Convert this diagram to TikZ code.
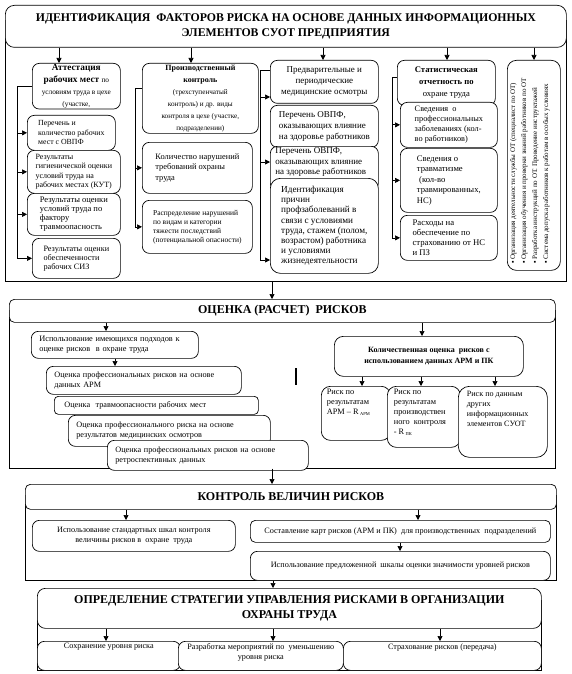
\documentclass[tikz,border=0pt]{standalone}
\usepackage{fontspec}
\setmainfont{Liberation Serif}
\usetikzlibrary{arrows.meta}
\newcommand\fz[2]{\fontsize{#1}{#2}\selectfont}
\newcommand\tbx[3]{\parbox[c][#1][t]{#2}{\raggedright #3}}
\tikzset{
  ln/.style={line width=0.7pt},
  rb/.style={draw, ln, rounded corners=7pt, fill=white, anchor=north west, inner sep=2pt},
  frame/.style={draw, ln, anchor=north west, inner sep=0pt},
  arr/.style={ln, -{Triangle[length=5pt,width=5pt]}},
}
\begin{document}
\begin{tikzpicture}[x=1pt,y=-1pt]
\useasboundingbox[fill=white] (0,0) rectangle (572,674);
% ================= SECTION 1
\node[frame, minimum width=561pt, minimum height=261pt] (s1) at (5,20) {};
\node[rb, rounded corners=9pt, minimum width=561pt, minimum height=42pt, align=center, font=\fz{11.8}{15}\bfseries] (t1) at (5,5)
  {ИДЕНТИФИКАЦИЯ\ \ ФАКТОРОВ РИСКА НА ОСНОВЕ ДАННЫХ ИНФОРМАЦИОННЫХ\\ЭЛЕМЕНТОВ СУОТ ПРЕДПРИЯТИЯ};
% column 1
\node[rb, minimum width=88pt, minimum height=45pt, align=center, inner sep=1pt] (h1) at (32,63)
  {\fz{9.3}{10}\bfseries Аттестация\\
   \fz{9.3}{9.5}\bfseries рабочих мест \fz{7.3}{9}\mdseries по\\
   \fz{7.3}{8.5}условиям труда в цехе\\
   \fz{7.3}{8.5}(участке,};
\node[rb, minimum width=88pt, minimum height=35pt, align=left, font=\fz{7.8}{9.5}] (a1) at (27,115)
  {Перечень и\\ количество рабочих\\ мест с ОВПФ};
\node[rb, minimum width=93pt, minimum height=43pt, align=left, font=\fz{8}{9.3}] (a2) at (27,150)
  {Результаты\\ гигиенической оценки\\ условий труда на\\ рабочих местах (КУТ)};
\node[rb, minimum width=93pt, minimum height=42pt, align=left, font=\fz{8.5}{9}] (a3) at (27,193)
  {Результаты оценки\\ условий труда по\\ фактору\\ травмоопасность};
\node[rb, minimum width=88pt, minimum height=40pt, align=left, font=\fz{8.2}{9}] (a4) at (32,238)
  {Результаты оценки\\ обеспеченности\\ рабочих СИЗ};
% column 2
\node[rb, minimum width=116pt, minimum height=70pt, align=center, inner sep=1pt] (h2) at (142,63)
  {\fz{8}{10}\bfseries Производственный\\
   \fz{8}{10}\bfseries контроль\\
   \fz{7.2}{8.5}(трехступенчатый\\
   \fz{7.2}{8.5}контроль) и др. виды\\
   \fz{7.2}{8.5}контроля в цехе (участке,\\
   \fz{7.2}{8.5}подразделении)};
\node[rb, minimum width=110pt, minimum height=51pt, align=left, font=\fz{8.4}{10.5}] (b1) at (142,142)
  {Количество нарушений\\ требований охраны\\ труда};
\node[rb, minimum width=110pt, minimum height=53pt, align=left, font=\fz{7.5}{9}] (b2) at (142,200)
  {Распределение нарушений\\ по видам и категории\\ тяжести последствий\\ (потенциальной опасности)};
% column 3
\node[rb, minimum width=108pt, minimum height=43pt, align=center, font=\fz{9}{11}] (h3) at (270,60)
  {Предварительные и\\ периодические\\ медицинские осмотры};
\node[rb, minimum width=108pt, minimum height=42pt, align=left, font=\fz{9}{10.8}] (c1) at (270,105)
  {Перечень ОВПФ,\\ оказывающих влияние\\ на здоровье работников};
\node[rb, minimum width=108pt, minimum height=44pt, inner sep=0pt, font=\fz{9}{10.5}] (c2) at (270,146)
  {\tbx{41pt}{98pt}{Перечень ОВПФ,\\ оказывающих влияние\\ на здоровье работников}};
\node[rb, rounded corners=10pt, minimum width=108pt, minimum height=95pt, align=left, font=\fz{9.2}{10.2}] (c3) at (270,178)
  {Идентификация\\ причин\\ профзаболеваний в\\ связи с условиями\\ труда, стажем (полом,\\ возрастом) работника\\ и условиями\\ жизнедеятельности};
% column 4
\node[rb, minimum width=98pt, minimum height=45pt, align=center, inner sep=1pt] (h4) at (397,60)
  {\fz{8.6}{11}\bfseries Статистическая\\
   \fz{8.6}{11}\bfseries отчетность по\\
   \fz{8.6}{11}охране труда};
\node[rb, minimum width=97pt, minimum height=45pt, align=left, font=\fz{8.3}{10}] (d1) at (400,102)
  {Сведения\ \ о\\ профессиональных\\ заболеваниях (кол-\\ во работников)};
\node[rb, minimum width=97pt, minimum height=64pt, align=left, font=\fz{8.6}{10.5}] (d2) at (400,148)
  {Сведения о\\ травматизме\\ \ (кол-во\\ травмированных,\\ НС)};
\node[rb, minimum width=97pt, minimum height=45pt, align=left, font=\fz{8.7}{10}] (d3) at (400,215)
  {Расходы на\\ обеспечение по\\ страхованию от НС\\ и ПЗ};
% column 5
\node[rb, rounded corners=9pt, minimum width=53pt, minimum height=210pt] (e) at (507,60) {};
\node[rotate=90, anchor=north west, align=left, inner sep=0pt, font=\fz{7}{11}] (etext) at (510,264)
  {▪ Организация деятельности службы ОТ (специалист по ОТ)\\
   ▪ Организация обучения и проверки знаний работников по ОТ\\
   ▪ Разработка инструкций по ОТ. Проведение инструктажей\\
   ▪ Система допуска работников к работам в особых условиях};
% arrows from title
\draw[arr] (t1.south -| 59,0) -- (h1.north -| 59,0);
\draw[arr] (t1.south -| 191,0) -- (h2.north -| 191,0);
\draw[arr] (t1.south -| 323,0) -- (h3.north -| 323,0);
\draw[arr] (t1.south -| 447,0) -- (h4.north -| 447,0);
\draw[arr] (t1.south -| 534,0) -- (e.north -| 534,0);
% brackets
\coordinate (k1) at (17,0);
\draw[ln] (h1.west) -| (k1 |- a4.west);
\foreach \n in {a1,a2,a3,a4} \draw[arr] (k1 |- \n.west) -- (\n.west);
\coordinate (k2) at (135,0);
\draw[ln] ([yshift=10pt]h2.west) -| (k2 |- b2.west);
\foreach \n in {b1,b2} \draw[arr] (k2 |- \n.west) -- (\n.west);
\coordinate (k3) at (260,0);
\draw[ln] ([yshift=11pt]h3.west) -| (k3 |- 0,260);
\draw[arr] (k3 |- 0,97) -- (h3.west |- 0,97);
\draw[arr] (k3 |- 0,162) -- (c2.west |- 0,162);
\draw[arr] (k3 |- 0,260) -- (c3.west |- 0,260);
\coordinate (k4) at (392,0);
\draw[ln] ([yshift=5pt]h4.west) -| (k4 |- d3.west);
\foreach \n in {d1,d2,d3} \draw[arr] (k4 |- \n.west) -- (\n.west);
% ================= SECTION 2
\node[frame, minimum width=546pt, minimum height=158pt] (s2) at (9,310) {};
\node[rb, rounded corners=5pt, minimum width=546pt, minimum height=23pt, font=\fz{12}{14}\bfseries] (t2) at (9,299) {ОЦЕНКА (РАСЧЕТ)\ \ РИСКОВ};
\node[rb, minimum width=167pt, minimum height=27pt, text width=151pt, inner xsep=8pt, align=left, font=\fz{8.3}{10}] (f1) at (31,331)
  {Использование имеющихся подходов к\\ оценке рисков\ \ в охране труда};
\node[rb, minimum width=195pt, minimum height=28pt, text width=179pt, inner xsep=8pt, align=left, font=\fz{8.2}{10}] (f2) at (46,366)
  {Оценка профессиональных рисков на основе\\ данных АРМ};
\node[rb, rounded corners=4pt, minimum width=204pt, minimum height=18pt, text width=184pt, inner xsep=10pt, align=left, font=\fz{8.2}{10}] (f3) at (54,396)
  {Оценка\ \ травмоопасности рабочих мест};
\node[rb, minimum width=202pt, minimum height=31pt, text width=186pt, inner xsep=8pt, align=left, font=\fz{8.2}{10}] (f4) at (68,415)
  {Оценка профессионального риска на основе\\ результатов медицинских осмотров};
\node[rb, minimum width=201pt, minimum height=30pt, text width=185pt, inner xsep=8pt, align=left, font=\fz{8.2}{10}] (f5) at (107,440)
  {Оценка профессиональных рисков на основе\\ ретроспективных данных};
\draw[line width=1.5pt] (296,368) coordinate (bar1) -- (296,385) coordinate (bar2);
\node[rb, rounded corners=9pt, minimum width=189pt, minimum height=40pt, align=center, font=\fz{8}{11}\bfseries] (g) at (334,336)
  {Количественная оценка\ \ рисков\ с\\ использованием данных АРМ и ПК};
\node[rb, rounded corners=9pt, minimum width=69pt, minimum height=54pt, inner sep=0pt, font=\fz{8.3}{10}] (r1) at (321,386)
  {\tbx{48pt}{58pt}{Риск по\\ результатам\\ АРМ – R\,\textsubscript{\fz{4.5}{5}АРМ}}};
\node[rb, rounded corners=9pt, minimum width=73pt, minimum height=61pt, inner sep=0pt, font=\fz{8.3}{10}] (r2) at (387,386)
  {\tbx{55pt}{60pt}{Риск по\\ результатам\\ производствен\\ ного\ \ контроля\\ - R\,\textsubscript{\fz{4.5}{5}ПК}}};
\node[rb, rounded corners=11pt, minimum width=89pt, minimum height=71pt, inner sep=0pt, font=\fz{8.1}{10}] (r3) at (458,386)
  {\tbx{62pt}{72pt}{Риск по данным\\ других\\ информационных\\ элементов СУОТ}};
\draw[arr] (s1.south -| 272,0) -- (t2.north -| 272,0);
\draw[arr] (t2.south -| 106,0) -- (f1.north -| 106,0);
\draw[arr] (f1.south -| 115,0) -- (f2.north -| 115,0);
\draw[arr] (t2.south -| 422,0) -- (g.north -| 422,0);
\draw[arr] (g.south -| 362,0) -- (r1.north -| 362,0);
\draw[arr] (g.south -| 421,0) -- (r2.north -| 421,0);
\draw[arr] (g.south -| 495,0) -- (r3.north -| 495,0);
% ================= SECTION 3
\node[frame, minimum width=531pt, minimum height=85pt] (s3) at (25,495) {};
\node[rb, rounded corners=5pt, minimum width=531pt, minimum height=25pt, font=\fz{12}{14}\bfseries] (t3) at (25,484) {КОНТРОЛЬ ВЕЛИЧИН РИСКОВ};
\node[rb, minimum width=203pt, minimum height=31pt, align=center, font=\fz{8.2}{10}] (m1) at (32,520)
  {Использование стандартных шкал контроля\\ величины рисков в\ \ охране\ \ труда};
\node[rb, rounded corners=5pt, minimum width=300pt, minimum height=22pt, align=center, font=\fz{8.2}{10}] (m2) at (250,520)
  {Составление карт рисков (АРМ и ПК)\ \ для производственных\ \ подразделений};
\node[rb, minimum width=300pt, minimum height=29pt, align=center, font=\fz{8.2}{10}] (m3) at (250,551)
  {Использование предложенной\ \ шкалы оценки значимости уровней рисков};
\draw[arr] (s2.south -| 272,0) -- (t3.north -| 272,0);
\draw[arr] (t3.south -| 126,0) -- (m1.north -| 126,0);
\draw[arr] (t3.south -| 418,0) -- (m2.north -| 418,0);
\draw[arr] (m2.south -| 400,0) -- (m3.north -| 400,0);
% ================= SECTION 4
\node[frame, minimum width=504pt, minimum height=70pt] (s4) at (37,600) {};
\node[rb, rounded corners=8pt, minimum width=504pt, minimum height=40pt, align=center, font=\fz{12}{15}\bfseries] (t4) at (37,588)
  {ОПРЕДЕЛЕНИЕ СТРАТЕГИИ УПРАВЛЕНИЯ РИСКАМИ В ОРГАНИЗАЦИИ\\ ОХРАНЫ ТРУДА};
\node[rb, minimum width=143pt, minimum height=29pt, inner sep=0pt, font=\fz{8.2}{10}] (n1) at (37,641)
  {\parbox[c][25pt][t]{130pt}{\centering Сохранение уровня риска}};
\node[rb, minimum width=165pt, minimum height=29pt, inner sep=0pt, font=\fz{8.2}{10}] (n2) at (178,641)
  {\parbox[c][25pt][t]{160pt}{\centering Разработка мероприятий по\ \ уменьшению\\ уровня риска}};
\node[rb, minimum width=198pt, minimum height=29pt, inner sep=0pt, font=\fz{8.2}{10}] (n3) at (343,641)
  {\parbox[c][25pt][t]{190pt}{\centering Страхование рисков (передача)}};
\draw[arr] (s3.south -| 273,0) -- (t4.north -| 273,0);
\draw[arr] (t4.south -| 106,0) -- (n1.north -| 106,0);
\draw[arr] (t4.south -| 273,0) -- (n2.north -| 273,0);
\draw[arr] (t4.south -| 440,0) -- (n3.north -| 440,0);
\end{tikzpicture}
\end{document}
